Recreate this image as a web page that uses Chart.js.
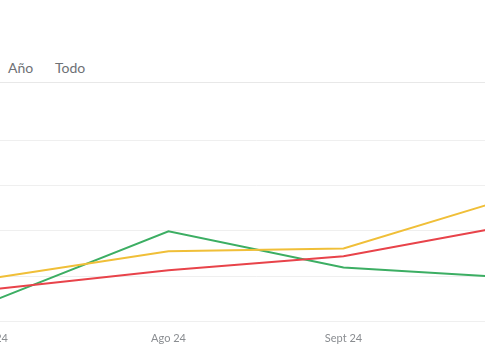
<!DOCTYPE html>
<html>
<head>
<meta charset="utf-8">
<script src="https://cdn.jsdelivr.net/npm/chart.js@4/dist/chart.umd.min.js"></script>
<style>
  html, body { margin: 0; padding: 0; width: 485px; height: 360px; overflow: hidden; background: #fff; }
  .tab { position: absolute; top: 59px; font-family: Lato, sans-serif; font-size: 14px; color: #6e7175; }
  .sep { position: absolute; top: 82px; left: 0; width: 485px; height: 1px; background: #e8e8e8; }
  .wrap { position: absolute; left: -60px; top: 0; width: 640px; height: 360px; }
</style>
</head>
<body>
<span class="tab" style="left:8px">Año</span><span class="tab" style="left:55px">Todo</span>
<div class="sep"></div>
<div class="wrap"><canvas id="c"></canvas></div>
<script>
const months = ['Jul 24', 'Ago 24', 'Sept 24', 'Oct 24'];
const serieAmarilla = [48, 77.5, 80.5, 139];
const serieRoja = [35.5, 56.5, 72, 107.5];
const serieVerde = [23, 99.5, 59.5, 48];
const yTicks = [0, 50, 100, 150, 200];

new Chart(document.getElementById('c'), {
  type: 'line',
  data: {
    labels: months,
    datasets: [
      { label: 'A', data: serieAmarilla, borderColor: '#f0bf38', borderWidth: 2, pointRadius: 0, tension: 0 },
      { label: 'B', data: serieRoja, borderColor: '#e8434a', borderWidth: 2, pointRadius: 0, tension: 0 },
      { label: 'C', data: serieVerde, borderColor: '#3cae63', borderWidth: 2, pointRadius: 0, tension: 0 }
    ]
  },
  options: {
    responsive: true,
    maintainAspectRatio: false,
    animation: false,
    layout: { padding: { left: 53.5, right: 61.5, top: 140, bottom: 0 } },
    plugins: { legend: { display: false }, tooltip: { enabled: false } },
    scales: {
      x: {
        grid: { display: false, drawTicks: false },
        border: { display: false },
        ticks: { color: '#8a8d91', font: { family: 'Lato', size: 11 }, padding: 10, maxRotation: 0, autoSkip: false },
        afterFit: (s) => { s.height = 38.5; }
      },
      y: {
        min: yTicks[0], max: yTicks[yTicks.length - 1],
        afterBuildTicks: (s) => { s.ticks = yTicks.map(v => ({ value: v })); },
        grid: { color: '#efefef', drawTicks: false, lineWidth: 1 },
        border: { display: false },
        ticks: { display: false },
        afterFit: (s) => { s.width = 0; }
      }
    }
  }
});
</script>
</body>
</html>
